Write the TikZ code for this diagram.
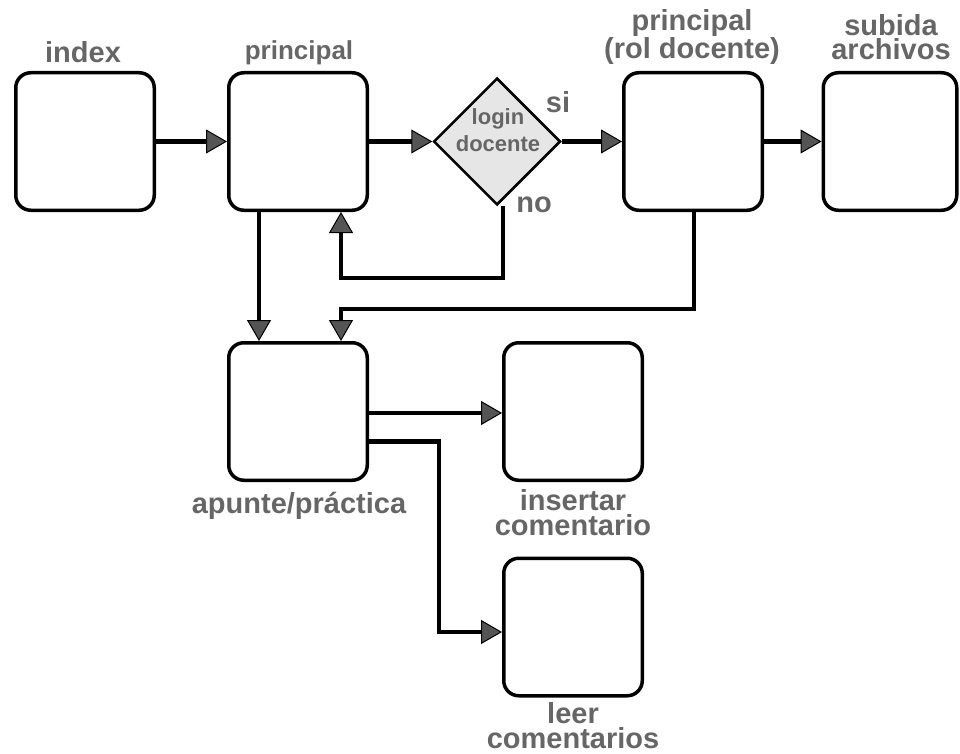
\documentclass[tikz,border=0pt]{standalone}
\usepackage{fontspec}
\setmainfont{Liberation Sans}
\usetikzlibrary{arrows.meta,shapes.geometric}
\definecolor{txt}{HTML}{666666}
\definecolor{tipfill}{HTML}{555555}
\definecolor{dfill}{HTML}{E6E6E6}
\begin{document}
\begin{tikzpicture}[x=1pt,y=-1pt,
  box/.style={draw, line width=3.5pt, rounded corners=15pt, minimum width=138.5pt, minimum height=137.5pt, inner sep=0pt, fill=white},
  decision/.style={diamond, draw, line width=2.5pt, fill=dfill, minimum width=127pt, minimum height=127pt, inner sep=0pt},
  lab/.style={text=txt, font=\bfseries\fontsize{29}{24.5}\selectfont, align=center, inner sep=0pt},
  smalllab/.style={text=txt, font=\bfseries\fontsize{22}{27}\selectfont, align=center, inner sep=0pt},
  arr/.style={draw, line width=4.5pt, -{Triangle[length=21pt,width=24pt,line width=1pt,fill=tipfill]}}
]
\useasboundingbox (0,0) rectangle (960,754);

% boxes
\node[box] (index) at (85,141.5) {};
\node[box] (principal) at (298,141.5) {};
\node[decision] (login) at (497,141.5) {};
\node[box] (prol) at (693,141.5) {};
\node[box, minimum width=133.5pt] (subida) at (890,141.5) {};
\node[box] (apunte) at (298,411.5) {};
\node[box] (insertar) at (573,411.5) {};
\node[box] (leer) at (573,627) {};

% labels
\node[lab, anchor=base] (tindex) at (83,63) {index};
\node[lab, anchor=base, font=\bfseries\fontsize{26}{24}\selectfont] (tprincipal) at (299,60) {principal};
\node[lab, anchor=base] (tprol) at (692,59) {principal\\(rol docente)};
\node[lab, anchor=base] (tsubida) at (891,60) {subida\\archivos};
\node[smalllab, anchor=base] (tlogin) at (498,152) {login\\docente};
\node[lab, anchor=base] (tsi) at (558,113) {si};
\node[lab, anchor=base] (tno) at (534,212) {no};
\node[lab, anchor=base] (tapunte) at (299,513) {apunte/práctica};
\node[lab, anchor=base] (tinsertar) at (573,535) {insertar\\comentario};
\node[lab, anchor=base] (tleer) at (573,748) {leer\\comentarios};

% corner coordinates
\coordinate (nocorner) at (503,278);
\coordinate (prolcorner) at (694,309);

% connectors
\draw[arr] (index.east) -- (principal.west);
\draw[arr] (principal.east) -- (login.west);
\draw[arr] (login.east) -- (prol.west);
\draw[arr] (prol.east) -- (subida.west);
\draw[arr] ([xshift=-39pt]principal.south) -- ([xshift=-39pt]apunte.north);
\draw[arr] ([xshift=6pt]login.south) -- (nocorner) -| ([xshift=43pt]principal.south);
\draw[arr] ([xshift=1pt]prol.south) -- (prolcorner) -| ([xshift=43pt]apunte.north);
\draw[arr] ([yshift=-1.5pt]apunte.east) -- ([yshift=-1.5pt]insertar.west);
\draw[arr] ([yshift=-30pt]apunte.east) -| ([xshift=-63pt, yshift=-5pt]leer.west) -- ([yshift=-5pt]leer.west);
\end{tikzpicture}
\end{document}
